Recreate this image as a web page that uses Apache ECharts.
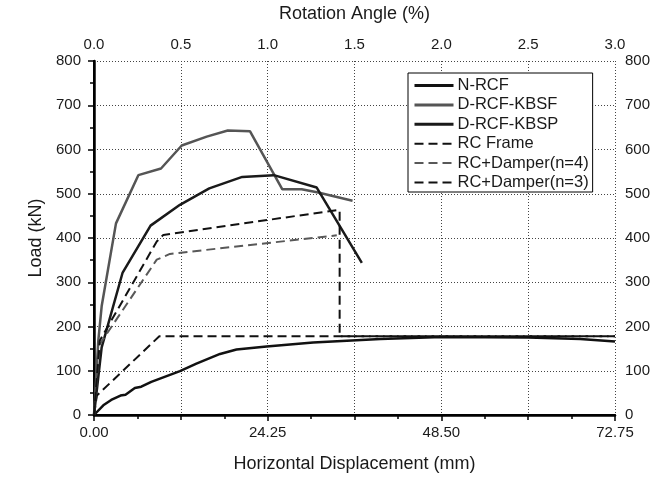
<!DOCTYPE html>
<html>
<head>
<meta charset="utf-8">
<script src="https://cdn.jsdelivr.net/npm/echarts@6/dist/echarts.min.js"></script>
<style>html,body{margin:0;padding:0;background:#fff}#c{width:666px;height:478px}</style>
</head>
<body>
<div id="c"></div>
<script>
// Horizontal displacement (mm), load (kN)
const seriesNames = ['N-RCF', 'D-RCF-KBSF', 'D-RCF-KBSP', 'RC Frame', 'RC+Damper(n=4)', 'RC+Damper(n=3)'];
const nrcf = [[0,0],[1.3,22],[2.4,34],[3.7,44],[4.4,46],[5.7,61],[6.6,64],[8.0,75],[12.0,99],[14.3,116],[17.6,138],[19.9,148],[24.1,155],[30.6,164],[40.0,172],[48.6,176],[60.6,175],[67.9,172],[72.75,166]];
const kbsf = [[0,0],[0.6,168],[1.08,247],[3.07,433],[6.19,542],[9.36,557],[12.25,609],[15.74,629],[18.68,643],[21.79,641],[26.3,510],[29.0,510],[31.3,503],[36.1,484]];
const kbsp = [[0,0],[1.07,153],[4.0,322],[7.9,428],[12.0,475],[16.1,512],[20.7,538],[25.1,542],[31.1,514],[37.4,344]];
const rcFrame = [[0,0],[0.4,44],[9.12,178],[72.75,178]];
const damper4 = [[0,0],[0.8,160],[8.76,351],[10.6,364],[33.9,406]];
const damper3 = [[0,0],[0.8,168],[8.76,392],[9.68,407],[33.9,463],[34.3,463],[34.3,178],[72.75,178]];
const mmTicks = [0, 24.25, 48.5, 72.75];
const rotationTicks = [0, 0.5, 1.0, 1.5, 2.0, 2.5, 3.0];
const loadTicks = [0, 100, 200, 300, 400, 500, 600, 700, 800];

const FONT = "'Liberation Sans', Arial, sans-serif";
const TXT = '#1a1a1a';
const chart = echarts.init(document.getElementById('c'), null, {renderer: 'canvas'});
const lineW = 2.5;
const dashedFlags = [false, false, false, true, true, true];
function mk(name, data, color, dashed) {
  return {
    name: name, type: 'line', data: data, xAxisIndex: 0, yAxisIndex: 0,
    symbol: 'none', showSymbol: false, animation: false,
    lineStyle: {color: color, width: dashed ? 2 : lineW, type: dashed ? [9, 5] : 'solid'},
    itemStyle: {color: color}
  };
}
chart.setOption({
  animation: false,
  backgroundColor: '#fff',
  grid: {left: 94, right: 51, top: 58, bottom: 63, containLabel: false},
  legend: {
    data: seriesNames.map((n, i) => ({name: n, lineStyle: {width: dashedFlags[i] ? 2 : 3}})),
    orient: 'vertical', left: 408, top: 73,
    itemWidth: 39, itemHeight: 14, itemGap: 2.4,
    padding: [4, 4, 1, 5],
    itemStyle: {opacity: 0},
    backgroundColor: '#fff', borderColor: '#000', borderWidth: 1,
    textStyle: {fontFamily: FONT, fontSize: 16.5, color: TXT, padding: [0, 0, 0, -1]},
    z: 10
  },
  xAxis: [
    {
      type: 'value', position: 'bottom', min: mmTicks[0], max: mmTicks[mmTicks.length - 1], interval: 24.25,
      name: 'Horizontal Displacement (mm)', nameLocation: 'middle', nameGap: 40,
      nameTextStyle: {fontFamily: FONT, fontSize: 18, color: TXT},
      axisLine: {lineStyle: {color: '#000', width: 2.5}},
      axisTick: {inside: false, length: 6, lineStyle: {color: '#000', width: 1.5}},
      minorTick: {show: true, splitNumber: 2, length: 4, lineStyle: {color: '#000', width: 1.5}},
      axisLabel: {fontFamily: FONT, fontSize: 15, color: TXT, margin: 10, formatter: v => v.toFixed(2)},
      splitLine: {show: false}
    },
    {
      type: 'value', position: 'top', min: rotationTicks[0], max: rotationTicks[rotationTicks.length - 1], interval: 0.5,
      name: 'Rotation Angle (%)', nameLocation: 'middle', nameGap: 38,
      nameTextStyle: {fontFamily: FONT, fontSize: 18, color: TXT},
      axisLine: {lineStyle: {color: '#000', width: 2}},
      axisTick: {inside: true, length: 5, lineStyle: {color: '#000', width: 1.5}},
      minorTick: {show: true, splitNumber: 2, length: 4, lineStyle: {color: '#000', width: 1.5}},
      axisLabel: {fontFamily: FONT, fontSize: 15, color: TXT, margin: 9, formatter: v => v.toFixed(1)},
      splitLine: {show: true, lineStyle: {color: '#444', width: 1, type: [1, 2]}}
    }
  ],
  yAxis: [
    {
      type: 'value', position: 'left', min: loadTicks[0], max: loadTicks[loadTicks.length - 1], interval: 100,
      name: 'Load (kN)', nameLocation: 'middle', nameGap: 48,
      nameTextStyle: {fontFamily: FONT, fontSize: 18, color: TXT},
      axisLine: {show: true, lineStyle: {color: '#000', width: 2.5}},
      axisTick: {show: true, inside: false, length: 6, lineStyle: {color: '#000', width: 1.5}},
      minorTick: {show: true, splitNumber: 2, length: 4, lineStyle: {color: '#000', width: 1.5}},
      axisLabel: {fontFamily: FONT, fontSize: 15, color: TXT, margin: 13},
      splitLine: {show: true, lineStyle: {color: '#444', width: 1, type: [1, 2]}}
    },
    {
      type: 'value', position: 'right', min: loadTicks[0], max: loadTicks[loadTicks.length - 1], interval: 100,
      axisLine: {show: true, lineStyle: {color: '#000', width: 2}},
      axisTick: {show: true, inside: true, length: 5, lineStyle: {color: '#000', width: 1.5}},
      minorTick: {show: true, splitNumber: 2, length: 4, lineStyle: {color: '#000', width: 1.5}},
      axisLabel: {fontFamily: FONT, fontSize: 15, color: TXT, margin: 10},
      splitLine: {show: false}
    }
  ],
  series: [
    mk(seriesNames[0], nrcf, '#111', false),
    mk(seriesNames[1], kbsf, '#555', false),
    mk(seriesNames[2], kbsp, '#1a1a1a', false),
    mk(seriesNames[3], rcFrame, '#111', true),
    mk(seriesNames[4], damper4, '#585858', true),
    mk(seriesNames[5], damper3, '#111', true)
  ]
});
</script>
</body>
</html>
